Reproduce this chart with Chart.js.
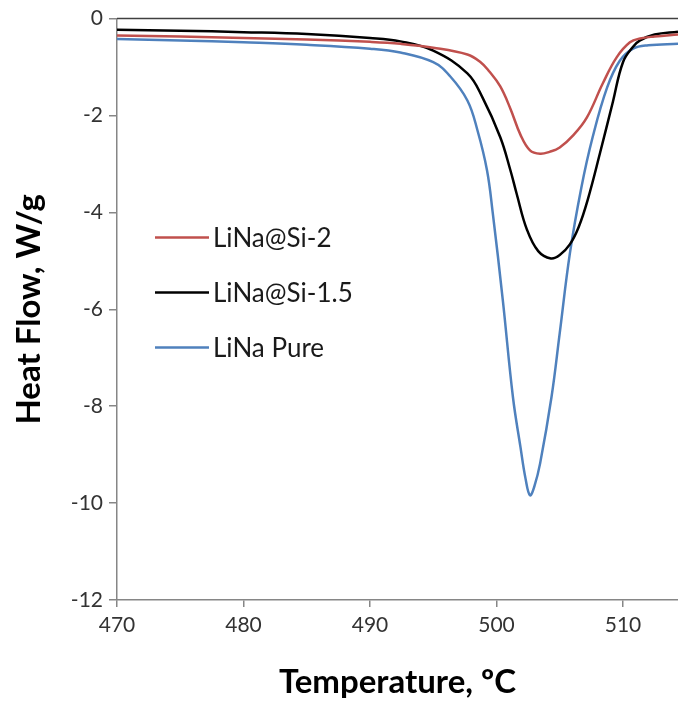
<!DOCTYPE html>
<html>
<head>
<meta charset="utf-8">
<script src="https://cdn.jsdelivr.net/npm/chart.js@4.4.1/dist/chart.umd.min.js"></script>
<style>
html,body{margin:0;padding:0;background:#fff;}
#wrap{width:678px;height:705px;position:relative;}
</style>
</head>
<body>
<div id="wrap"><canvas id="c" width="678" height="705"></canvas></div>
<script>
// ---- data ----
const seriesNames = ["LiNa@Si-2", "LiNa@Si-1.5", "LiNa Pure"];

const si2Temp = [470, 475, 480, 485, 490, 492.4, 495, 497.7, 498.7, 499.4, 500.3, 501.1, 501.9, 502.65, 503.45, 504.2, 505.0, 506.1, 507.15, 508.4, 509.5, 510.55, 511.35, 512.5, 514.35];
const si2Flow = [-0.35, -0.37, -0.40, -0.43, -0.48, -0.52, -0.60, -0.74, -0.89, -1.08, -1.40, -1.86, -2.40, -2.72, -2.79, -2.75, -2.66, -2.40, -2.04, -1.34, -0.80, -0.49, -0.41, -0.37, -0.33];

const si15Temp = [470, 475, 480, 485, 490, 492.4, 495, 497.7, 498.9, 500.3, 501.1, 501.6, 502.4, 503.3, 504.3, 505.0, 505.8, 506.5, 507.2, 508.18, 509.2, 510.0, 510.8, 511.35, 512.5, 514.35];
const si15Flow = [-0.23, -0.25, -0.28, -0.32, -0.40, -0.47, -0.66, -1.13, -1.63, -2.45, -3.13, -3.62, -4.35, -4.80, -4.95, -4.88, -4.66, -4.30, -3.75, -2.78, -1.72, -0.90, -0.58, -0.45, -0.33, -0.27];

const pureTemp = [470, 475, 480, 485, 490, 492.4, 495, 496.3, 497.7, 498.5, 499.25, 499.7, 500.5, 501.3, 501.9, 502.3, 502.65, 503.0, 503.45, 504.35, 505.0, 505.8, 506.7, 507.6, 508.75, 509.75, 510.8, 512, 514.35];
const pureFlow = [-0.42, -0.45, -0.49, -0.54, -0.62, -0.70, -0.90, -1.18, -1.69, -2.31, -3.13, -4.00, -5.81, -7.81, -8.85, -9.50, -9.84, -9.65, -9.18, -7.81, -6.49, -4.85, -3.50, -2.45, -1.42, -0.87, -0.62, -0.55, -0.52];

const xTicks = [470, 480, 490, 500, 510];
const yTicks = [0, -2, -4, -6, -8, -10, -12];
const xMin = 470, xMax = 514.35, yMin = -12, yMax = 0;
const seriesColors = ["#C0504D", "#000000", "#4F81BD"];

function pts(t, v){ return t.map((x,i)=>({x:x, y:v[i]})); }

const FONT = "Lato, 'Open Sans', 'Liberation Sans', sans-serif";

const topLine = {
  id:'topLine',
  afterDatasetsDraw(chart){
    const {ctx, chartArea} = chart;
    const y = chart.scales.y.getPixelForValue(yMax);
    ctx.save();
    ctx.strokeStyle = '#404040';
    ctx.lineWidth = 1.5;
    ctx.beginPath();
    ctx.moveTo(chartArea.left, y);
    ctx.lineTo(chartArea.right, y);
    ctx.stroke();
    ctx.restore();
  }
};

const innerLegend = {
  id:'innerLegend',
  afterDraw(chart){
    const {ctx, chartArea} = chart;
    ctx.save();
    ctx.font = "26px " + FONT;
    ctx.textBaseline = 'middle';
    ctx.textAlign = 'left';
    chart.data.datasets.forEach((ds, i) => {
      const y = chartArea.top + 219 + i*55;
      const x0 = chartArea.left + 38;
      ctx.strokeStyle = ds.borderColor;
      ctx.lineWidth = 2.5;
      ctx.beginPath();
      ctx.moveTo(x0, y);
      ctx.lineTo(x0 + 54, y);
      ctx.stroke();
      ctx.fillStyle = '#1a1a1a';
      ctx.fillText(ds.label, x0 + 58, y + 1);
    });
    ctx.restore();
  }
};

new Chart(document.getElementById('c'), {
  type: 'scatter',
  data: {
    datasets: [
      {label: seriesNames[0], data: pts(si2Temp, si2Flow), borderColor: seriesColors[0]},
      {label: seriesNames[1], data: pts(si15Temp, si15Flow), borderColor: seriesColors[1]},
      {label: seriesNames[2], data: pts(pureTemp, pureFlow), borderColor: seriesColors[2]}
    ].map(d => Object.assign(d, {showLine:true, pointRadius:0, borderWidth:2.5, tension:0.4, fill:false}))
  },
  options: {
    responsive: false,
    animation: false,
    devicePixelRatio: 1,
    layout: {padding: {top: 18, right: 0, left: 0, bottom: 0}},
    plugins: {legend: {display:false}, tooltip: {enabled:false}},
    scales: {
      x: {
        type: 'linear',
        min: xMin, max: xMax,
        afterBuildTicks: s => { s.ticks = xTicks.map(v => ({value:v})); },
        afterFit: s => { s.height = 105; },
        grid: {drawOnChartArea:false, drawTicks:true, tickLength:7, color:'#868686', lineWidth:1.5},
        border: {display:true, color:'#868686', width:1.5},
        ticks: {color:'#333', font:{size:21, family:FONT}, padding:6, maxRotation:0},
        title: {display:true, text:'Temperature, ºC', color:'#000', font:{size:33, weight:'bold', family:FONT}, padding:{top:0, bottom:3}}
      },
      y: {
        type: 'linear',
        min: yMin, max: yMax,
        afterBuildTicks: s => { s.ticks = yTicks.map(v => ({value:v})); },
        afterFit: s => { s.width = 117; },
        grid: {drawOnChartArea:false, drawTicks:true, tickLength:8, color:'#868686', lineWidth:1.5},
        border: {display:true, color:'#868686', width:1.5},
        ticks: {color:'#333', font:{size:21, family:FONT}, padding:6},
        title: {display:true, text:'Heat Flow, W/g', color:'#000', font:{size:33, weight:'bold', family:FONT}, padding:{top:10, bottom:0}}
      }
    }
  },
  plugins: [topLine, innerLegend]
});
</script>
</body>
</html>
